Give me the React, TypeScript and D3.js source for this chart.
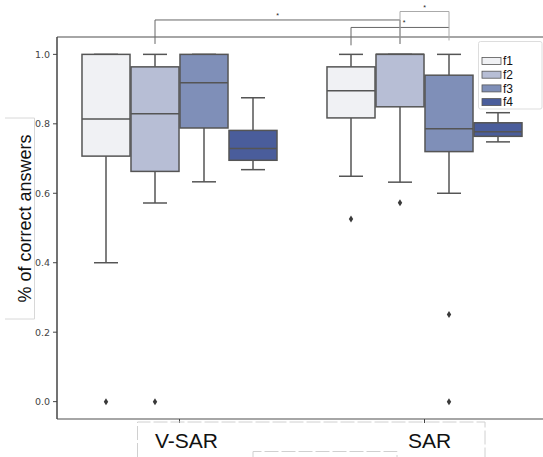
import React from "react";
import * as d3 from "d3";

const groups = ["V-SAR", "SAR"];
const hues = ["f1", "f2", "f3", "f4"];
const colors = ["#f0f1f4", "#b7bed5", "#7f8fb8", "#4a5d9b"];

// per group, per hue
const whiskLow = [
  [0.4, 0.572, 0.633, 0.668],
  [0.649, 0.632, 0.6, 0.748],
];
const q1 = [
  [0.707, 0.663, 0.788, 0.695],
  [0.817, 0.849, 0.72, 0.764],
];
const median = [
  [0.814, 0.829, 0.918, 0.729],
  [0.895, 1.0, 0.786, 0.777],
];
const q3 = [
  [1.0, 0.964, 1.0, 0.781],
  [0.964, 1.0, 0.94, 0.803],
];
const whiskHigh = [
  [1.0, 1.0, 1.0, 0.875],
  [1.0, 1.0, 1.0, 0.832],
];
const outliers = [
  [[0.0], [0.0], [], []],
  [[0.526], [0.573], [0.251, 0.0], []],
];

// significance brackets: [group, hue] -> [group, hue], level, end heights
const brackets = [
  { from: [0, 1], to: [1, 1], level: 1.099, lowL: 1.03, lowR: 1.03, color: "#666", starShift: 0 },
  { from: [1, 0], to: [1, 2], level: 1.0775, lowL: 1.026, lowR: 1.077, color: "#666", starShift: 4 },
  { from: [1, 1], to: [1, 2], level: 1.1234, lowL: 1.03, lowR: 1.04, color: "#aaa", starShift: 0 },
];

const yTicks = [0, 0.2, 0.4, 0.6, 0.8, 1.0];

const W = 543;
const H = 457;
const left = 57;
const top = 37;
const bottom = 419;

export default function App() {
  const y = d3.scaleLinear().domain([-0.05, 1.05]).range([bottom, top]);
  const x0 = d3.scaleBand().domain(groups).range([left, left + 490]);
  const bw = x0.bandwidth();
  const x1 = d3.scaleBand().domain(hues).range([0, bw * 0.8]);
  const hw = x1.bandwidth();
  const boxW = hw * 0.98;
  const cx = (g: number, h: number) =>
    (x0(groups[g]) as number) + bw * 0.1 + (x1(hues[h]) as number) + hw / 2;
  const fmt = d3.format(".1f");
  const edge = "#555";

  return (
    <svg
      width={W}
      height={H}
      style={{ position: "absolute", left: 0, top: 0, background: "#fff" }}
      fontFamily="'Liberation Sans', Arial, sans-serif"
    >
      <rect width={W} height={H} fill="#fff" />

      {/* y label box */}
      <polyline points="5,118 34.5,118 34.5,319 5,319" fill="none" stroke="#d8d8d8" />
      <text
        transform={`translate(31,${(118 + 319) / 2}) rotate(-90)`}
        textAnchor="middle"
        fontSize={18}
        fill="#111"
      >
        % of correct answers
      </text>

      {/* spines */}
      <line x1={left} x2={W} y1={top} y2={top} stroke="#888" strokeWidth={1.5} />
      <line x1={left} x2={W} y1={bottom} y2={bottom} stroke="#888" strokeWidth={1.5} />
      <line x1={left} x2={left} y1={top} y2={bottom} stroke="#444" strokeWidth={1.5} />

      {/* y ticks */}
      {yTicks.map((t) => (
        <g key={t}>
          <line x1={left - 4} x2={left} y1={y(t)} y2={y(t)} stroke="#444" />
          <text
            x={left - 7}
            y={y(t)}
            dy="0.35em"
            textAnchor="end"
            fontSize={9.5}
            fontFamily="'DejaVu Sans', sans-serif"
            fill="#444"
          >
            {fmt(t)}
          </text>
        </g>
      ))}

      {/* x ticks */}
      {groups.map((g) => {
        const c = (x0(g) as number) + bw / 2;
        return <line key={g} x1={c} x2={c} y1={bottom} y2={bottom + 4} stroke="#444" />;
      })}

      {/* boxes */}
      {groups.map((g, gi) =>
        hues.map((h, hi) => {
          const c = cx(gi, hi);
          return (
            <g key={g + h} stroke={edge} strokeWidth={1.5}>
              <line x1={c} x2={c} y1={y(whiskLow[gi][hi])} y2={y(q1[gi][hi])} />
              <line x1={c} x2={c} y1={y(q3[gi][hi])} y2={y(whiskHigh[gi][hi])} />
              <line
                x1={c - boxW / 4}
                x2={c + boxW / 4}
                y1={y(whiskLow[gi][hi])}
                y2={y(whiskLow[gi][hi])}
              />
              <line
                x1={c - boxW / 4}
                x2={c + boxW / 4}
                y1={y(whiskHigh[gi][hi])}
                y2={y(whiskHigh[gi][hi])}
              />
              <rect
                x={c - boxW / 2}
                y={y(q3[gi][hi])}
                width={boxW}
                height={y(q1[gi][hi]) - y(q3[gi][hi])}
                fill={colors[hi]}
              />
              <line
                x1={c - boxW / 2}
                x2={c + boxW / 2}
                y1={y(median[gi][hi])}
                y2={y(median[gi][hi])}
              />
              {outliers[gi][hi].map((o, oi) => (
                <path
                  key={oi}
                  d={`M${c},${y(o) - 3.5}L${c + 2.2},${y(o)}L${c},${y(o) + 3.5}L${c - 2.2},${y(o)}Z`}
                  fill="#3a3a3a"
                  stroke="none"
                />
              ))}
            </g>
          );
        })
      )}

      {/* brackets */}
      {brackets.map((b, i) => {
        const xa = cx(b.from[0], b.from[1]);
        const xb = cx(b.to[0], b.to[1]);
        return (
          <g key={i}>
            <polyline
              points={`${xa},${y(b.lowL)} ${xa},${y(b.level)} ${xb},${y(b.level)} ${xb},${y(b.lowR)}`}
              fill="none"
              stroke={b.color}
              strokeWidth={1}
            />
            <text
              x={(xa + xb) / 2 + b.starShift}
              y={y(b.level) - 2}
              textAnchor="middle"
              fontSize={7}
              fill="#222"
            >
              *
            </text>
          </g>
        );
      })}

      {/* legend */}
      <rect x={478.5} y={41.5} width={63.5} height={67.5} rx={2} fill="#fff" stroke="#ddd" />
      {hues.map((h, i) => (
        <g key={h} transform={`translate(482,${61 + i * 13.7})`}>
          <rect x={0} y={-3.5} width={19} height={7} fill={colors[i]} stroke={edge} strokeWidth={0.8} />
          <text x={21} y={0} dy="0.35em" fontSize={12} fill="#111">
            {h}
          </text>
        </g>
      ))}

      {/* x label boxes */}
      <polyline
        points="137.5,457 137.5,422 485,422 485,457"
        fill="none"
        stroke="#d0d0d0"
        strokeDasharray="14,3"
      />
      <polyline points="253,457 253,451.5 397,451.5 397,457" fill="none" stroke="#d0d0d0" strokeDasharray="14,3" />
      {groups.map((g) => {
        const c = (x0(g) as number) + bw / 2;
        return (
          <text key={g} x={c + (g === "SAR" ? 5 : 7)} y={448} textAnchor="middle" fontSize={21} fill="#111">
            {g}
          </text>
        );
      })}
    </svg>
  );
}
